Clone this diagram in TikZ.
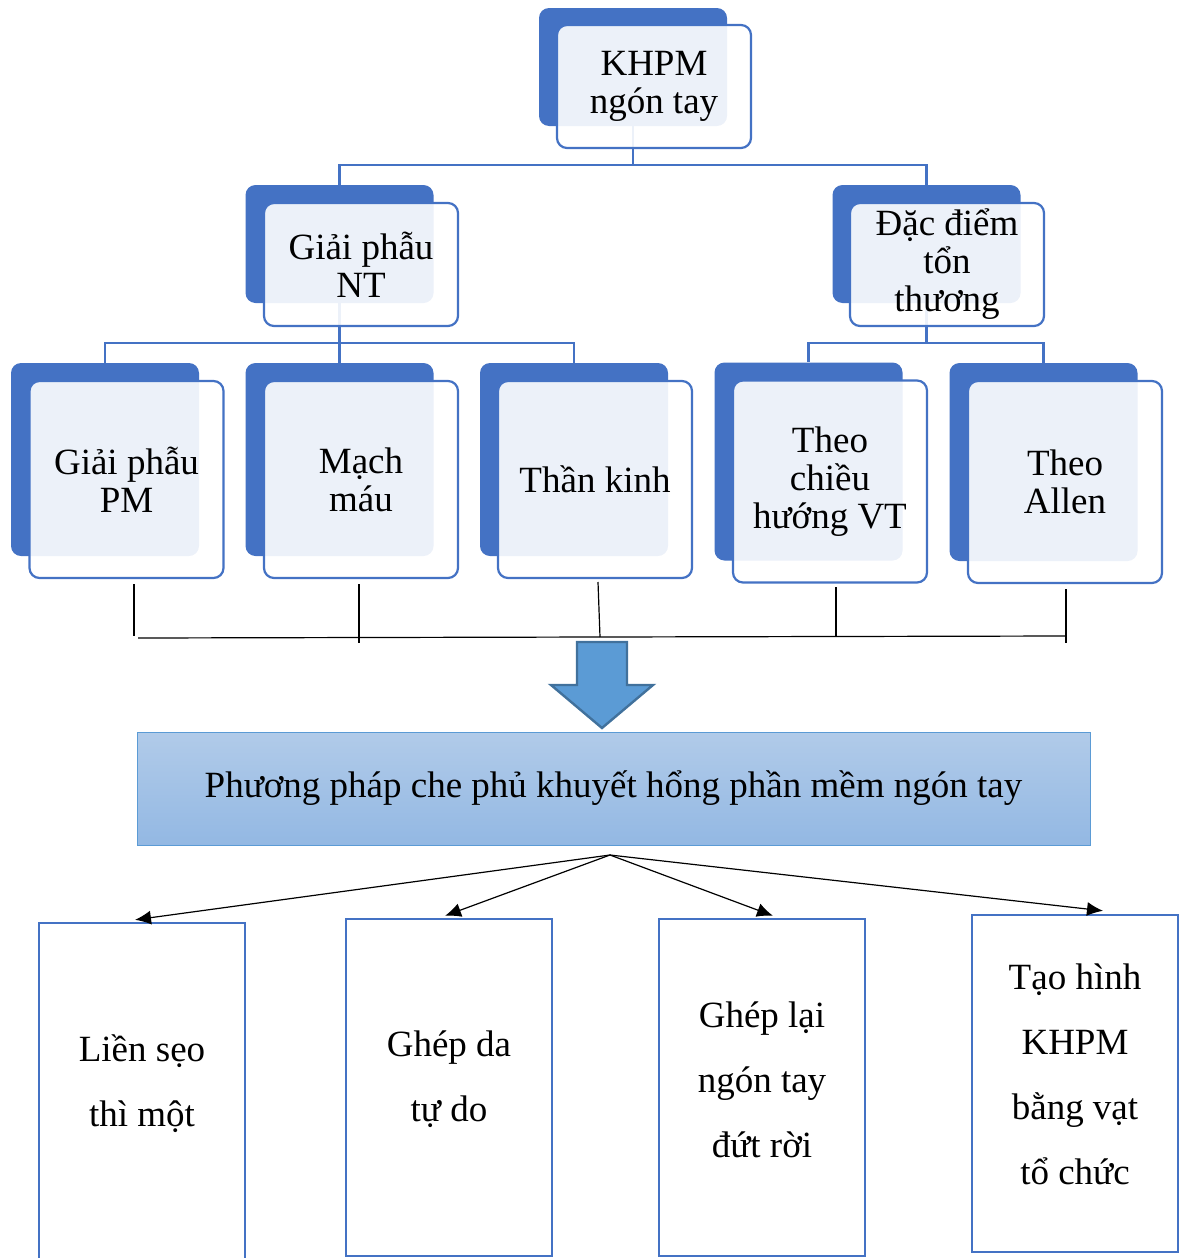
\documentclass[tikz,border=0pt]{standalone}
\usepackage{fontspec}
\setmainfont{Liberation Serif}
\usetikzlibrary{arrows.meta}
\definecolor{boxcol}{HTML}{4472C4}
\definecolor{arrowcol}{HTML}{5B9BD5}
\definecolor{arrowedge}{HTML}{41719C}
\definecolor{bartop}{HTML}{B1CBE9}
\definecolor{barbot}{HTML}{93B8E3}
\tikzstyle{backbox}=[rounded corners=5pt, fill=boxcol, inner sep=0pt,
minimum width=94pt, minimum height=59pt]
\tikzstyle{frontbox}=[rounded corners=5pt, draw=boxcol, line width=1.1pt,
fill=white, fill opacity=0.9, text opacity=1, inner sep=0pt, align=center,
minimum width=97pt, minimum height=61.5pt, font=\fontsize{18.5}{19}\selectfont]
\tikzstyle{conn}=[draw=boxcol, line width=1.2pt]
\tikzstyle{bracket}=[black, line width=0.6pt]
\tikzstyle{leafbox}=[draw=boxcol, line width=1.2pt, inner sep=0pt,
minimum width=103pt, minimum height=168.5pt]
\tikzstyle{leaftext}=[align=center, inner sep=0pt,
font=\fontsize{18.5}{32.5}\selectfont]
\tikzstyle{fanarrow}=[-{Latex[length=8pt,width=7pt]}, black, line width=0.6pt]

\begin{document}
\begin{tikzpicture}[x=0.5pt, y=-0.5pt]
  \useasboundingbox (0,0) rectangle (1179,1258);
  % back boxes
  \node[backbox] (khb) at (633,67) {};
  \node[backbox] (gntb) at (339.5,244) {};
  \node[backbox] (ddtb) at (926.5,244) {};
  \node[backbox, minimum height=96.5pt] (gpmb) at (105,459.5) {};
  \node[backbox, minimum height=96.5pt] (mmb) at (339.5,459.5) {};
  \node[backbox, minimum height=96.5pt] (tkb) at (574,459.5) {};
  \node[backbox, minimum height=99pt] (vtb) at (808.5,461.5) {};
  \node[backbox, minimum height=99pt] (alb) at (1043.5,462) {};
  % tree lines
  \coordinate (lv1) at (0,165);
  \coordinate (lv2) at (0,343);
  \draw[conn] (khb.south) -- (khb.south |- lv1) -| (gntb.north);
  \draw[conn] (khb.south |- lv1) -| (ddtb.north);
  \draw[conn] (gntb.south) -- (gntb.south |- lv2) -| (gpmb.north);
  \draw[conn] (gntb.south |- lv2) -- (mmb.north);
  \draw[conn] (gntb.south |- lv2) -| (tkb.north);
  \draw[conn] (ddtb.south) -- (ddtb.south |- lv2) -| (vtb.north);
  \draw[conn] (ddtb.south |- lv2) -| (alb.north);
  % front boxes
  \node[frontbox] (kh) at (654,86.5) {KHPM\\ngón tay};
  \node[frontbox] (gnt) at (361,264.5) {Giải phẫu\\NT};
  \node[frontbox] (ddt) at (947,264.5) {Đặc điểm\\tổn\\thương};
  \node[frontbox, minimum height=98.5pt] (gpm) at (126.5,479.5) {Giải phẫu\\PM};
  \node[frontbox, minimum height=98.5pt] (mm) at (361,479.5) {Mạch\\máu};
  \node[frontbox, minimum height=98.5pt] (tk) at (595,479.5) {Thần kinh};
  \node[frontbox, minimum height=101pt] (vt) at (830,481.5) {Theo\\chiều\\hướng VT};
  \node[frontbox, minimum height=101pt] (al) at (1065,482) {Theo\\Allen};
  % hand drawn bracket
  \coordinate (h1) at (134,584);
  \coordinate (h2) at (359,584);
  \coordinate (h3) at (598,582);
  \coordinate (h4) at (836,587);
  \coordinate (h5) at (1066,589);
  \draw[bracket] (h1) -- ++(0,52);
  \draw[bracket] (h2) -- ++(0,59);
  \draw[bracket] (h3) -- ++(2,55);
  \draw[bracket] (h4) -- ++(0,50);
  \draw[bracket] (h5) -- ++(0,54);
  \draw[bracket] (138,638) -- (1066,636);
  % block arrow
  \draw[fill=arrowcol, draw=arrowedge, line width=1.2pt]
    (577,642) -- (627,642) -- (627,685) -- (653,685) -- (602,728)
    -- (551,685) -- (577,685) -- cycle;
  \node[draw=arrowcol, line width=0.5pt, top color=bartop, bottom color=barbot,
    minimum width=476.5pt, minimum height=56.5pt, inner sep=0pt,
    font=\fontsize{18.5}{22}\selectfont] (pp) at (613.5,788.5)
    {Phương pháp che phủ khuyết hổng phần mềm ngón tay};
  % methods
  \node[leafbox] (lf1) at (142,1091.5) {};
  \node[leafbox] (lf2) at (449,1087.5) {};
  \node[leafbox] (lf3) at (762,1087.5) {};
  \node[leafbox] (lf4) at (1075,1083.5) {};
  \node[leaftext] (lf1t) at ([yshift=4pt]lf1.center) {Liền sẹo\\thì một};
  \node[leaftext] (lf2t) at ([yshift=4pt]lf2.center) {Ghép da\\tự do};
  \node[leaftext] (lf3t) at ([yshift=4pt]lf3.center) {Ghép lại\\ngón tay\\đứt rời};
  \node[leaftext] (lf4t) at ([yshift=4.5pt]lf4.center) {Tạo hình\\KHPM\\bằng vạt\\tổ chức};
  \coordinate (fan) at (610,855);
  \draw[fanarrow] (fan) -- ([xshift=-3.5pt,yshift=1pt]lf1.north);
  \draw[fanarrow] (fan) -- ([xshift=-2pt,yshift=1pt]lf2.north);
  \draw[fanarrow] (fan) -- ([xshift=5.5pt,yshift=1pt]lf3.north);
  \draw[fanarrow] (fan) -- ([xshift=14pt,yshift=1.5pt]lf4.north);
\end{tikzpicture}
\end{document}
